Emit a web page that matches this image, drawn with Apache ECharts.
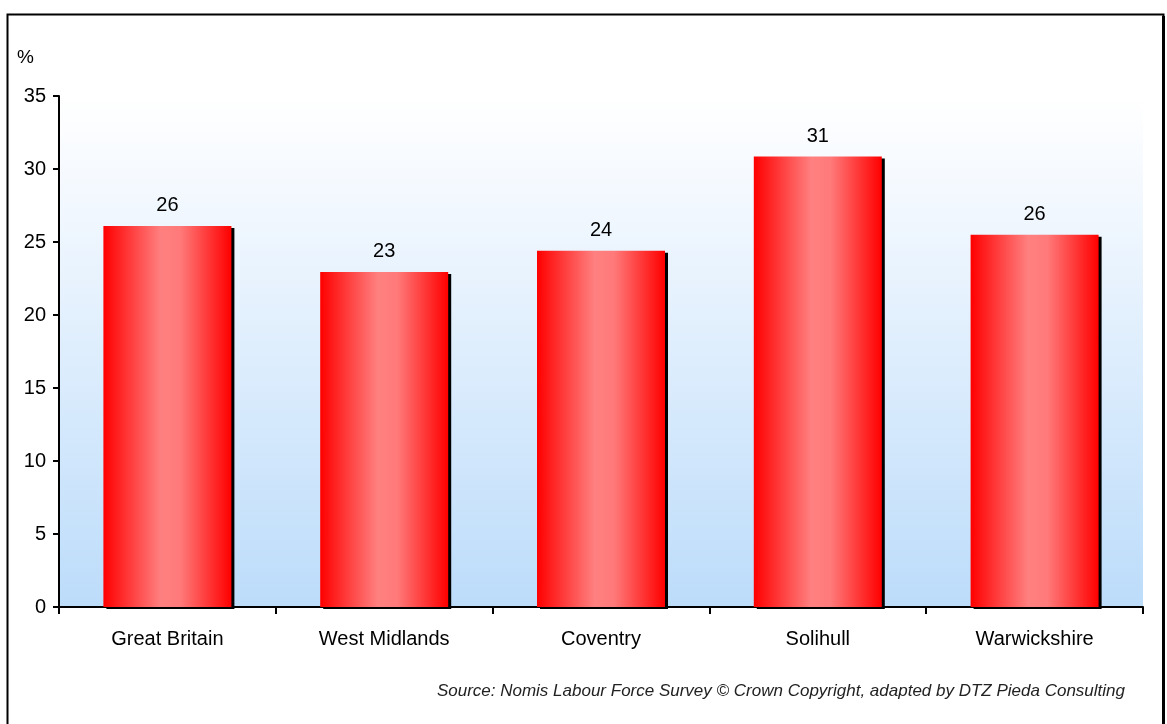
<!DOCTYPE html>
<html>
<head>
<meta charset="utf-8">
<script src="https://cdn.jsdelivr.net/npm/echarts@6/dist/echarts.min.js"></script>
<style>html,body{margin:0;padding:0;background:#fff;}#c{width:1167px;height:724px;}</style>
</head>
<body>
<div id="c"></div>
<script>
const categories = ['Great Britain', 'West Midlands', 'Coventry', 'Solihull', 'Warwickshire'];
const values = [26.1, 22.95, 24.4, 30.85, 25.5];
const yTicks = [0, 5, 10, 15, 20, 25, 30, 35];
const unitLabel = '%';
const sourceText = 'Source: Nomis Labour Force Survey \u00A9 Crown Copyright, adapted by DTZ Pieda Consulting';

const chart = echarts.init(document.getElementById('c'), null, {renderer: 'canvas'});
const font = 'Liberation Sans, Arial, sans-serif';
chart.setOption({
  animation: false,
  backgroundColor: '#ffffff',
  grid: {
    left: 59, top: 96, right: 24, bottom: 117,
    show: true, borderWidth: 0,
    backgroundColor: new echarts.graphic.LinearGradient(0, 0, 0, 1, [
      {offset: 0, color: '#ffffff'},
      {offset: 0.15, color: '#f6faff'},
      {offset: 1, color: '#bcdcfa'}
    ])
  },
  xAxis: {
    type: 'category', data: categories,
    axisLine: {lineStyle: {color: '#000', width: 2}},
    axisTick: {show: true, length: 7, lineStyle: {color: '#000', width: 2}, alignWithLabel: false},
    axisLabel: {color: '#000', fontSize: 20, fontFamily: font, margin: 22},
    splitLine: {show: false}
  },
  yAxis: {
    type: 'value', min: yTicks[0], max: yTicks[yTicks.length - 1], interval: 5,
    axisLine: {show: true, lineStyle: {color: '#000', width: 2}},
    axisTick: {show: true, length: 6, lineStyle: {color: '#000', width: 2}},
    axisLabel: {color: '#000', fontSize: 20, fontFamily: font, margin: 13},
    splitLine: {show: false}
  },
  series: [{
    type: 'bar', data: values, barWidth: 128,
    itemStyle: {
      color: new echarts.graphic.LinearGradient(0, 0, 1, 0, [
        {offset: 0, color: '#ff0000'},
        {offset: 0.45, color: '#ff8080'},
        {offset: 0.6, color: '#ff7a7a'},
        {offset: 1, color: '#ff0000'}
      ]),
      borderWidth: 0,
      shadowColor: '#000', shadowOffsetX: 3, shadowOffsetY: 2, shadowBlur: 0
    },
    label: {
      show: true, position: 'top', distance: 10, color: '#000', fontSize: 20, fontFamily: font,
      formatter: p => Math.round(p.value)
    }
  }],
  graphic: [
    {type: 'rect', left: 5, top: 12, shape: {width: 1156, height: 730}, style: {fill: 'none', stroke: '#000', lineWidth: 2}, z: 10},
    {type: 'rect', left: 1162, top: 16, shape: {width: 3, height: 708}, style: {fill: '#000'}, z: 10},
    {type: 'text', left: 17, top: 48, style: {text: unitLabel, fill: '#000', font: '19px ' + font}},
    {type: 'text', right: 42, top: 683, style: {text: sourceText, fill: '#222', font: 'italic 17px ' + font}}
  ]
});
</script>
</body>
</html>
